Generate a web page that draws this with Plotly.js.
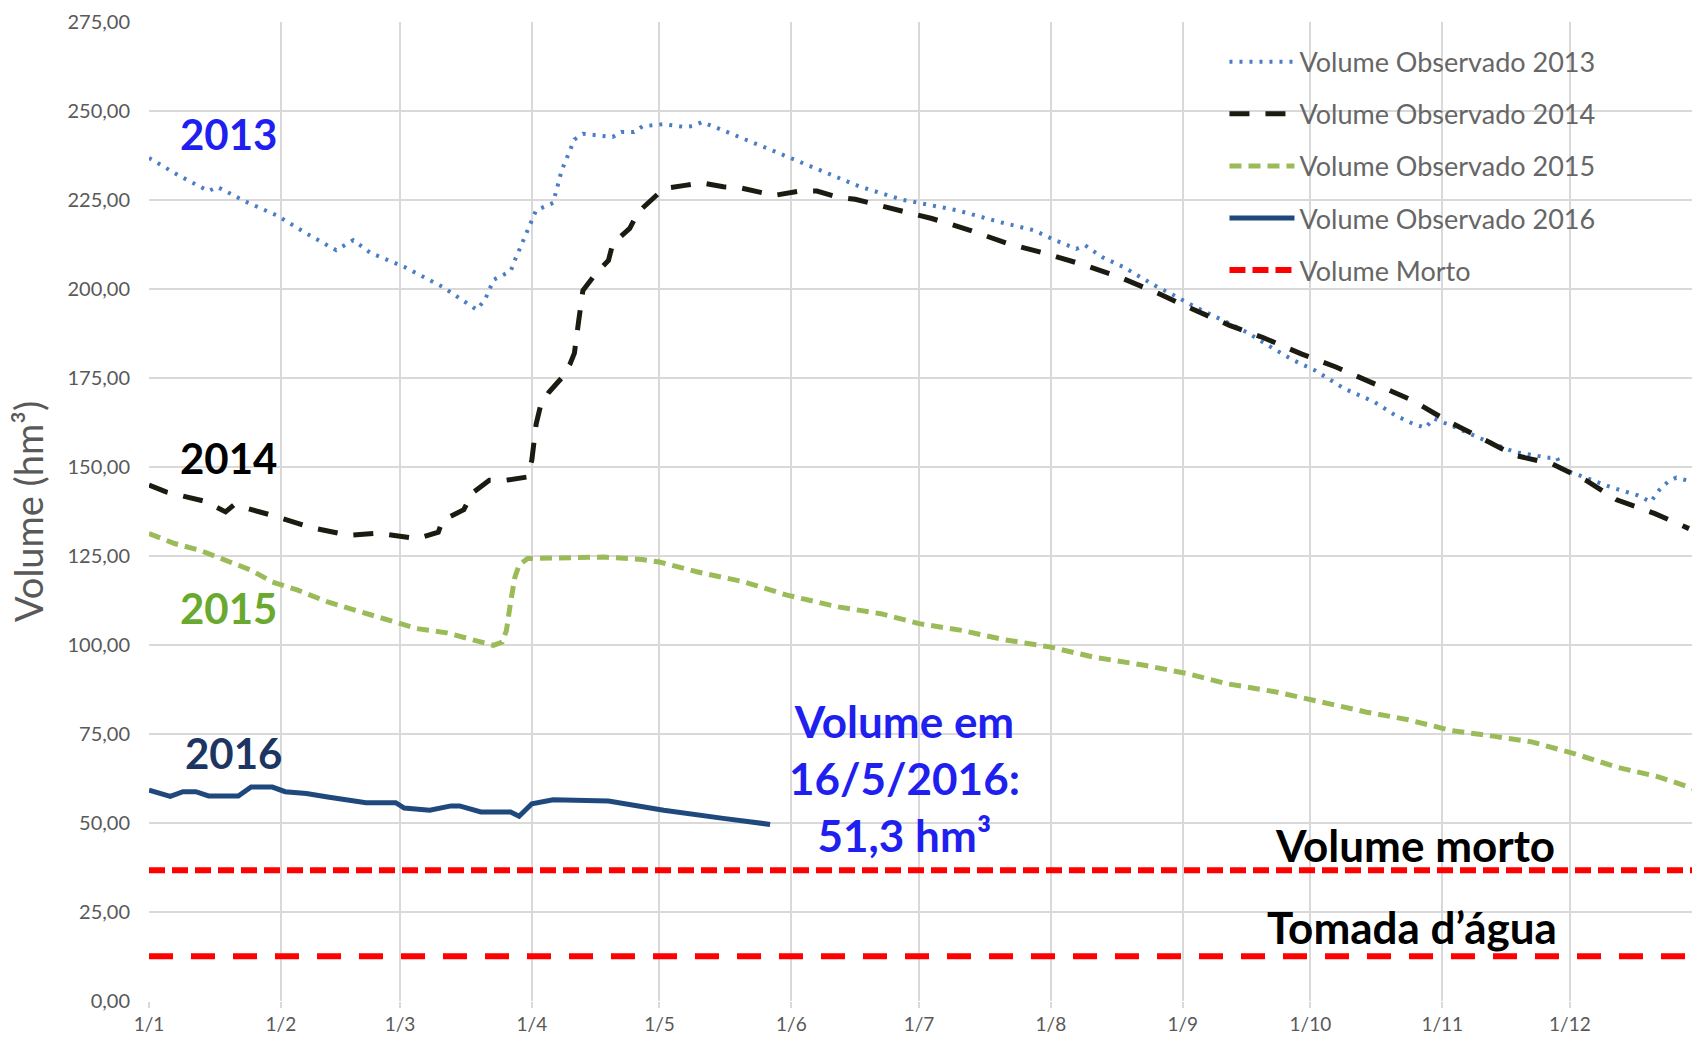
<!DOCTYPE html>
<html><head><meta charset="utf-8">
<script src="https://cdn.plot.ly/plotly-3.0.1.min.js"></script>
<style>html,body{margin:0;padding:0;background:#fff}#chart{width:1692px;height:1039px}</style>
</head><body><div id="chart"></div>
<script>
// Day-of-year (MM-DD) positions, plotted on a common reference year
const REF_YEAR = '2015-';

const dates2013 = ['01-01','01-08','01-15','01-17','01-24','01-31','02-07','02-14','02-18','02-22','03-02','03-11','03-19','03-21','03-23','03-27','03-28','03-31','04-02','04-06','04-08','04-11','04-13','04-20','04-22','04-25','04-27','05-02','05-07','05-09','05-11','05-14','05-21','05-29','06-02','06-10','06-17','06-27','07-02','07-10','07-20','07-28','08-02','08-07','08-09','08-13','08-18','08-26','08-30','09-04','09-12','09-16','09-21','09-23','09-27','10-02','10-09','10-16','10-21','10-25','10-28','10-30','11-04','11-10','11-18','11-26','11-28','11-29','12-06','12-11','12-17','12-20','12-22','12-24','12-26','12-29'];
const vol2013 = [236.8,231.9,227.5,228.7,224.4,220.7,215.6,210.9,213.7,210.2,206.2,200.6,194.2,197.0,202.6,205.0,208.1,216.2,222.1,224.2,233.3,242.0,243.6,242.7,244.1,244.1,245.7,246.3,245.5,245.8,246.9,245.5,242.2,238.2,236.2,232.2,228.8,225.1,224.0,222.1,218.8,216.5,213.7,211.3,212.3,209.0,206.2,200.6,198.2,194.9,190.3,187.9,184.2,182.8,180.0,177.2,172.0,168.3,164.5,162.2,161.0,163.6,161.2,158.0,154.2,152.6,152.6,149.5,146.3,144.2,142.0,140.2,143.5,145.8,147.0,146.1];

const dates2014 = ['01-01','01-05','01-14','01-19','01-21','01-30','02-08','02-17','02-24','03-05','03-10','03-11','03-16','03-18','03-22','03-26','03-31','04-01','04-02','04-03','04-05','04-08','04-10','04-11','04-12','04-13','04-16','04-19','04-20','04-24','04-26','04-29','05-02','05-07','05-11','05-16','05-20','05-28','06-03','06-07','06-12','06-16','06-25','07-04','07-13','07-22','07-31','08-09','08-17','08-26','09-03','09-12','09-20','09-29','10-07','10-16','10-25','11-02','11-10','11-18','11-27','12-05','12-12','12-21','12-29'];
const vol2014 = [144.9,143.0,140.4,137.4,139.4,136.4,133.0,130.8,131.4,129.9,131.7,135.0,138.0,142.7,146.3,146.3,147.2,152.0,162.0,167.0,171.0,175.0,179.0,182.0,191.0,199.6,204.3,208.0,212.7,217.0,221.6,224.9,228.2,229.1,229.8,228.7,228.4,226.3,227.5,227.5,225.8,225.2,222.6,219.8,216.5,212.7,209.9,206.7,203.4,198.9,194.5,189.8,186.3,181.7,178.1,173.4,168.7,163.1,158.3,153.3,150.8,146.1,140.8,136.9,132.7];

const dates2015 = ['01-01','01-07','01-13','01-20','01-25','01-30','02-05','02-12','02-20','02-27','03-05','03-12','03-18','03-23','03-25','03-26','03-27','03-28','03-29','03-31','04-18','04-27','05-01','05-10','05-21','05-31','06-12','06-22','07-01','07-11','07-21','08-01','08-11','08-23','09-02','09-11','09-23','10-03','10-14','10-24','11-03','11-13','11-22','12-02','12-12','12-22','12-30'];
const vol2015 = [131.3,128.5,126.6,123.3,121.0,117.7,115.4,112.1,109.3,106.5,104.6,103.4,101.3,99.9,100.8,104.0,112.0,119.0,122.5,124.3,124.7,124.0,123.3,120.5,117.7,114.0,110.7,108.8,106.0,104.1,101.5,99.4,96.6,94.3,92.0,89.2,86.8,84.0,81.2,79.0,76.0,74.4,72.8,69.5,65.7,62.9,59.7];

const dates2016 = ['01-01','01-06','01-09','01-12','01-15','01-22','01-25','01-30','02-02','02-07','02-12','02-21','02-28','03-02','03-08','03-13','03-15','03-20','03-27','03-29','04-01','04-06','04-19','05-02','05-16','05-27'];
const vol2016 = [59.2,57.5,58.8,58.8,57.6,57.6,60.1,60.1,58.8,58.3,57.3,55.7,55.7,54.2,53.6,54.8,54.8,53.1,53.1,51.9,55.4,56.5,56.2,53.6,51.3,49.6];

const levelDates = ['01-01','12-31'];
const volumeMorto = 36.7;
const tomadaAgua = 12.6;

const tickDates = ['01-01','02-01','03-01','04-01','05-01','06-01','07-01','08-01','09-01','10-01','11-01','12-01'];
const tickLabels = ['1/1','1/2','1/3','1/4','1/5','1/6','1/7','1/8','1/9','1/10','1/11','1/12'];
const yTicks = [0,25,50,75,100,125,150,175,200,225,250,275];
const yTickLabels = ['0,00','25,00','50,00','75,00','100,00','125,00','150,00','175,00','200,00','225,00','250,00','275,00'];

const toX = arr => arr.map(d => REF_YEAR + d);

const traces = [
  {x: toX(dates2013), y: vol2013, name: 'Volume Observado 2013', legendgroup:'a', mode:'lines',
   line:{color:'#4a7ec4', width:4, dash:'3px,7px'}},
  {x: toX(dates2014), y: vol2014, name: 'Volume Observado 2014', legendgroup:'b', mode:'lines',
   line:{color:'#1b1b12', width:5, dash:'20px,16px'}},
  {x: toX(dates2015), y: vol2015, name: 'Volume Observado 2015', legendgroup:'c', mode:'lines',
   line:{color:'#9bbb59', width:5, dash:'12px,7px'}},
  {x: toX(dates2016), y: vol2016, name: 'Volume Observado 2016', legendgroup:'d', mode:'lines',
   line:{color:'#1f497d', width:5}},
  {x: toX(levelDates), y: levelDates.map(() => volumeMorto), name: 'Volume Morto', legendgroup:'e', mode:'lines',
   line:{color:'#ff0000', width:6, dash:'16px,7px'}},
  {x: toX(levelDates), y: levelDates.map(() => tomadaAgua), name: 'Tomada d’água', showlegend:false, mode:'lines',
   line:{color:'#ff0000', width:6, dash:'24px,18px'}}
];

const annFont = {family:'Lato, sans-serif', size:42};
const layout = {
  width:1692, height:1039,
  margin:{l:149, r:0, t:22, b:38},
  paper_bgcolor:'#ffffff', plot_bgcolor:'#ffffff',
  font:{family:'Lato, sans-serif', color:'#595959'},
  showlegend:true,
  legend:{x:0.697, y:0.984, xanchor:'left', yanchor:'top', bgcolor:'rgba(0,0,0,0)',
    font:{size:27, color:'#666666'}, traceorder:'grouped', tracegroupgap:14, itemwidth:65},
  xaxis:{type:'date', range:[REF_YEAR+'01-01', REF_YEAR+'12-29 17:00'],
    tickmode:'array', tickvals: toX(tickDates), ticktext: tickLabels,
    showgrid:true, gridcolor:'#d9d9d9', gridwidth:2, zeroline:false, showline:false,
    ticks:'outside', ticklen:6, tickcolor:'#d9d9d9', tickwidth:2,
    tickfont:{size:19, color:'#595959'}, ticklabelstandoff:0},
  yaxis:{range:[0,275], tickmode:'array', tickvals:yTicks, ticktext:yTickLabels,
    showgrid:true, gridcolor:'#d9d9d9', gridwidth:2, zeroline:false, showline:false,
    tickfont:{size:20, color:'#595959'}, ticklabelstandoff:18,
    title:{text:'Volume (hm³)', font:{size:38, color:'#595959'}, standoff:12}},
  annotations:[
    {x:REF_YEAR+'01-19 19:00', y:243.5, text:'<b>2013</b>', showarrow:false, font:Object.assign({}, annFont, {color:'#1f1ff0'})},
    {x:REF_YEAR+'01-19 19:00', y:152.6, text:'<b>2014</b>', showarrow:false, font:Object.assign({}, annFont, {color:'#000000'})},
    {x:REF_YEAR+'01-19 19:00', y:110.4, text:'<b>2015</b>', showarrow:false, font:Object.assign({}, annFont, {color:'#6aa92f'})},
    {x:REF_YEAR+'01-20 19:00', y:69.6, text:'<b>2016</b>', showarrow:false, font:Object.assign({}, annFont, {color:'#1c3661'})},
    {x:REF_YEAR+'06-27 12:00', y:62.7, text:'<b>Volume em<br>16/5/2016:<br>51,3 hm³</b>', showarrow:false, align:'center', font:Object.assign({}, annFont, {size:44, color:'#1f1ff0'})},
    {x:REF_YEAR+'10-25 12:00', y:43.7, text:'<b>Volume morto</b>', showarrow:false, font:Object.assign({}, annFont, {size:44, color:'#000000'})},
    {x:REF_YEAR+'10-25', y:20.9, text:'<b>Tomada d’água</b>', showarrow:false, font:Object.assign({}, annFont, {size:44, color:'#000000'})}
  ]
};

Plotly.newPlot('chart', traces, layout, {displayModeBar:false, staticPlot:true});
</script>
</body></html>
